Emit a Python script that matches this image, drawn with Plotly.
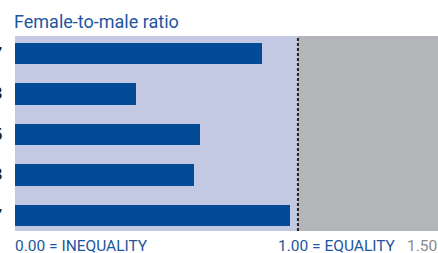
import plotly.graph_objects as go

categories = ["A", "B", "C", "D", "E"]
ratios = [0.873, 0.428, 0.654, 0.632, 0.972]
side_labels = ["0.87", "0.43", "0.65", "0.63", "0.97"]

BAR = "#034b97"
LAV = "#c4c9e3"
GRAY = "#b4b5b8"
BLUE_TXT = "#1d56a0"
FONT = "Roboto"

fig = go.Figure()
fig.add_trace(go.Bar(
    y=list(range(len(categories))), x=ratios, orientation="h",
    marker=dict(color=BAR, line=dict(width=0)), width=0.52,
    hoverinfo="skip", showlegend=False,
))

fig.add_shape(type="rect", xref="x", yref="paper", x0=0, x1=1, y0=0, y1=1,
              fillcolor=LAV, line=dict(width=0), layer="below")
fig.add_shape(type="rect", xref="x", yref="paper", x0=1, x1=1.6, y0=0, y1=1,
              fillcolor=GRAY, line=dict(width=0), layer="below")
fig.add_shape(type="line", xref="x", yref="paper", x0=1, x1=1, y0=0, y1=1,
              line=dict(color="#222222", width=2, dash="3px,2px"))

for i, lab in enumerate(side_labels):
    fig.add_annotation(x=-0.027, xref="paper", y=i, yref="y", text=lab,
                       showarrow=False, xanchor="right",
                       font=dict(family="Liberation Sans", size=17, color="#222222", weight="bold"))

fig.add_annotation(x=-0.005, xref="paper", y=-0.02, yref="paper", yanchor="top", xanchor="left",
                   text="0.00 = INEQUALITY", showarrow=False,
                   font=dict(family=FONT, size=15.5, color=BLUE_TXT))
fig.add_annotation(x=1.355, xref="x", y=-0.02, yref="paper", yanchor="top", xanchor="right",
                   text="1.00 = EQUALITY", showarrow=False,
                   font=dict(family=FONT, size=15.5, color=BLUE_TXT))
fig.add_annotation(x=1.003, xref="paper", y=-0.02, yref="paper", yanchor="top", xanchor="right",
                   text="1.50", showarrow=False,
                   font=dict(family=FONT, size=15.5, color="#8a8b8e"))
fig.add_annotation(x=-0.006, xref="paper", y=1.01, yref="paper", yanchor="bottom", xanchor="left",
                   text="Female-to-male ratio", showarrow=False,
                   font=dict(family=FONT, size=18, color=BLUE_TXT))

fig.update_layout(
    width=438, height=253,
    margin=dict(l=15, r=0, t=36, b=22),
    paper_bgcolor="white", plot_bgcolor="white",
    xaxis=dict(range=[0, 1.495], visible=False, fixedrange=True),
    yaxis=dict(range=[4.383, -0.432], visible=False, fixedrange=True),
    bargap=0,
)
fig.write_html("out.html", config={"displayModeBar": False},
               post_script="document.body.style.margin='0';document.body.style.overflow='hidden';")
